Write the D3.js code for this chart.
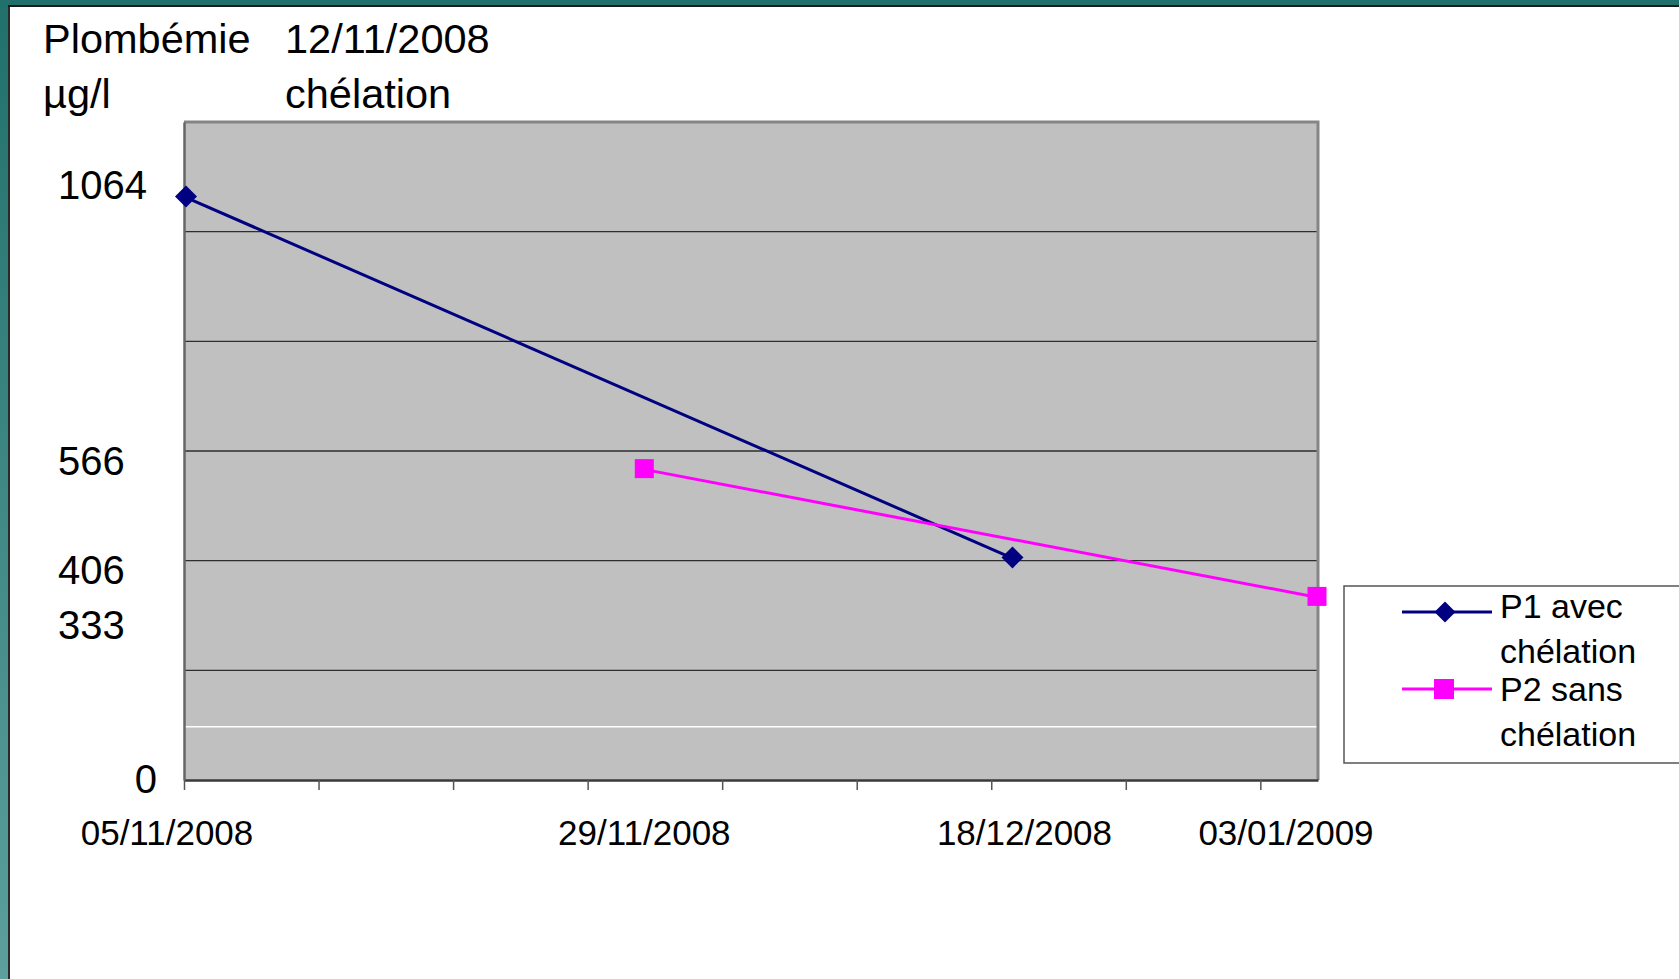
<!DOCTYPE html>
<html><head><meta charset="utf-8">
<script src="https://cdn.jsdelivr.net/npm/d3@7"></script>
<style>
html,body{margin:0;padding:0;background:#fff;overflow:hidden}
svg{display:block;font-family:"Liberation Sans",Arial,Helvetica,sans-serif}
</style></head><body>
<svg id="c" width="1679" height="979"></svg>
<script>
// ---- data ----
const seriesNames = ["P1 avec chélation", "P2 sans chélation"];
const p1Dates = ["2008-11-05", "2008-12-18"];
const p1Values = [1064, 406];
const p2Dates = ["2008-11-29", "2009-01-03"];
const p2Values = [566, 333];
const yTickValues = [1064, 566, 406, 333, 0];
const yTickLabels = ["1064", "566", "406", "333", "0"];
const xTickDates = ["2008-11-05", "2008-11-29", "2008-12-18", "2009-01-03"];
const xTickLabels = ["05/11/2008", "29/11/2008", "18/12/2008", "03/01/2009"];
const gridValues = [200, 400, 600, 800, 1000];
const whiteGridValues = [97];
const titleLines = [["Plombémie", "12/11/2008"], ["µg/l", "chélation"]];

// ---- layout (manual label nudges as in the original slide) ----
const yLabelNudge = [2, 5, 27, 42, 13];
const xLabelNudge = [-17, -1, 14, -32];

const parse = d3.utcParse("%Y-%m-%d");
const svg = d3.select("#c");

// frame
const defs = svg.append("defs");
const g1 = defs.append("linearGradient").attr("id", "tealGrad").attr("x1", 0).attr("y1", 0).attr("x2", 0).attr("y2", 1);
g1.append("stop").attr("offset", "0%").attr("stop-color", "#21706b");
g1.append("stop").attr("offset", "100%").attr("stop-color", "#5c9f9d");
svg.append("rect").attr("x", 0).attr("y", 0).attr("width", 8).attr("height", 979).attr("fill", "url(#tealGrad)");
svg.append("rect").attr("x", 0).attr("y", 0).attr("width", 1679).attr("height", 5).attr("fill", "#21706b");
svg.append("line").attr("x1", 9).attr("x2", 9).attr("y1", 6).attr("y2", 979).attr("stroke", "#2a2a2a").attr("stroke-width", 2);
svg.append("line").attr("x1", 8).attr("x2", 1679).attr("y1", 6).attr("y2", 6).attr("stroke", "#1a1a1a").attr("stroke-width", 2);

// plot area
const L = 184, R = 1318, T = 122, B = 780;
const x = d3.scaleUtc().domain([parse("2008-11-05"), parse("2009-01-03")]).range([L, R]);
const y = d3.scaleLinear().domain([0, 1200]).range([B, T]);

svg.append("rect").attr("x", L).attr("y", T).attr("width", R - L).attr("height", B - T).attr("fill", "#c0c0c0");

// gridlines
svg.append("g").selectAll("line").data(gridValues).join("line")
  .attr("x1", L).attr("x2", R).attr("y1", d => y(d)).attr("y2", d => y(d))
  .attr("stroke", "#2e2e2e").attr("stroke-width", 1.4);
svg.append("g").selectAll("line").data(whiteGridValues).join("line")
  .attr("x1", L).attr("x2", R).attr("y1", d => y(d)).attr("y2", d => y(d))
  .attr("stroke", "#ffffff").attr("stroke-width", 1.4);

// border top/right
svg.append("path").attr("d", `M${L},${T}H${R}V${B}`).attr("fill", "none").attr("stroke", "#858585").attr("stroke-width", 3);

// x axis
const xTicks = d3.utcDay.range(parse("2008-11-05"), parse("2009-01-03"), 7);
const xAxis = svg.append("g").attr("transform", `translate(0,${B})`)
  .call(d3.axisBottom(x).tickValues(xTicks).tickFormat("").tickSize(10).tickSizeOuter(0));
xAxis.select(".domain").attr("stroke", "#3a3a3a").attr("stroke-width", 2.5);
xAxis.selectAll(".tick line").attr("stroke", "#555").attr("stroke-width", 1.5);

// y axis
const yAxis = svg.append("g").attr("transform", `translate(${L},0)`)
  .call(d3.axisLeft(y).tickValues([]).tickSizeOuter(0));
yAxis.select(".domain").attr("stroke", "#666").attr("stroke-width", 2.5);

// y labels
svg.append("g").selectAll("text").data(yTickValues).join("text")
  .attr("x", (d, i) => d === 0 ? 157 : 58)
  .attr("y", (d, i) => y(d) + yLabelNudge[i])
  .attr("text-anchor", d => d === 0 ? "end" : "start")
  .attr("font-size", 40).attr("fill", "#000")
  .text((d, i) => yTickLabels[i]);

// x labels
svg.append("g").selectAll("text").data(xTickDates).join("text")
  .attr("x", (d, i) => x(parse(d)) + xLabelNudge[i])
  .attr("y", 845)
  .attr("text-anchor", "middle")
  .attr("font-size", 35).attr("fill", "#000")
  .text((d, i) => xTickLabels[i]);

// title
const titleX = [43, 285], titleY = [53, 108];
titleLines.forEach((row, r) => row.forEach((t, c) => {
  svg.append("text").attr("x", titleX[c]).attr("y", titleY[r]).attr("font-size", 41.5).attr("fill", "#000").text(t);
}));

// series
const p1 = p1Dates.map((d, i) => ({ d: parse(d), v: p1Values[i] }));
const p2 = p2Dates.map((d, i) => ({ d: parse(d), v: p2Values[i] }));
const line = d3.line().x(p => x(p.d)).y(p => y(p.v));
const navy = "#000080", mag = "#ff00ff";
svg.append("path").attr("d", line(p1)).attr("fill", "none").attr("stroke", navy).attr("stroke-width", 3);
svg.append("path").attr("d", line(p2)).attr("fill", "none").attr("stroke", mag).attr("stroke-width", 3);

const diamond = (cx, cy, r) => `M${cx},${cy - r}L${cx + r},${cy}L${cx},${cy + r}L${cx - r},${cy}Z`;
svg.append("g").selectAll("path").data(p1).join("path")
  .attr("d", p => diamond(x(p.d) + 2, y(p.v), 11)).attr("fill", navy);
svg.append("g").selectAll("rect").data(p2).join("rect")
  .attr("x", p => x(p.d) - 10.5).attr("y", p => y(p.v) - 10.5).attr("width", 19).attr("height", 19).attr("fill", mag);

// legend
const lg = svg.append("g");
lg.append("rect").attr("x", 1344).attr("y", 586).attr("width", 360).attr("height", 177)
  .attr("fill", "#fff").attr("stroke", "#555").attr("stroke-width", 1.5);
const legendRowsY = [612, 689];
const legendTextShift = [-3, 3];
const legendColors = [navy, mag];
seriesNames.forEach((name, i) => {
  const ly = legendRowsY[i];
  lg.append("line").attr("x1", 1402).attr("x2", 1492).attr("y1", ly).attr("y2", ly)
    .attr("stroke", legendColors[i]).attr("stroke-width", 3);
  if (i === 0) lg.append("path").attr("d", diamond(1445, ly, 10.5)).attr("fill", navy);
  else lg.append("rect").attr("x", 1434).attr("y", ly - 10).attr("width", 20).attr("height", 20).attr("fill", mag);
  const words = name.split(" ");
  const t = lg.append("text").attr("font-size", 34).attr("fill", "#000");
  t.append("tspan").attr("x", 1500).attr("y", ly + 9 + legendTextShift[i]).text(words.slice(0, 2).join(" "));
  t.append("tspan").attr("x", 1500).attr("y", ly + 54 + legendTextShift[i]).text(words.slice(2).join(" "));
});
</script>
</body></html>
